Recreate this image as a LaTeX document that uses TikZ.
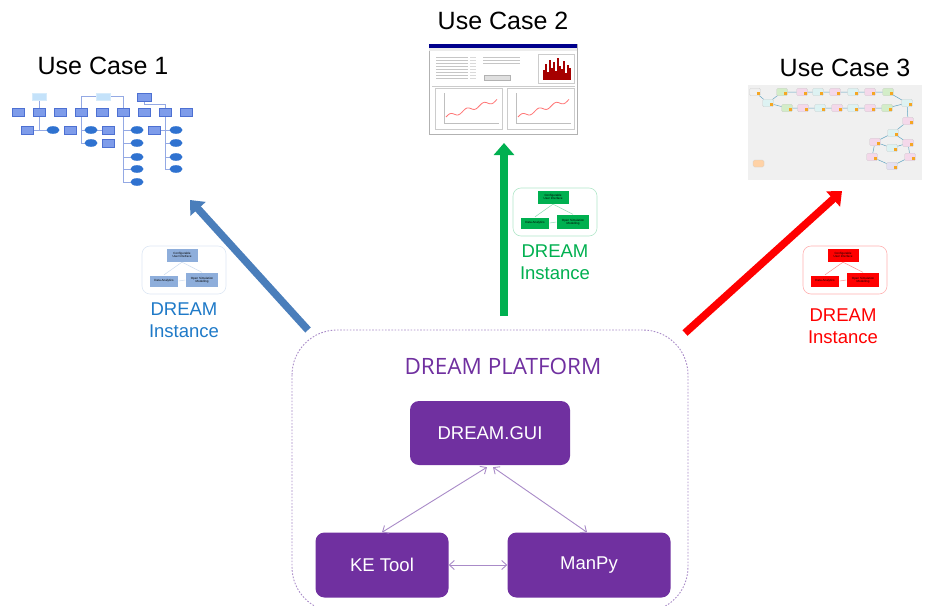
\documentclass[tikz,border=0pt]{standalone}
\usepackage{fontspec}
\setmainfont{Liberation Sans}
\newfontfamily\platfont{Open Sans}
\usetikzlibrary{arrows.meta,positioning}

\definecolor{dreampurple}{HTML}{7030A0}
\definecolor{platline}{HTML}{A98BC8}
\definecolor{arrowblue}{HTML}{4A7EBB}
\definecolor{textblue}{HTML}{1F7AC8}
\definecolor{dreamgreen}{HTML}{00B050}
\definecolor{dreamred}{HTML}{FF0000}
\definecolor{miniblue}{HTML}{8EAEDB}
\definecolor{ucbox}{HTML}{7E9CEA}
\definecolor{ucedge}{HTML}{4D70D2}
\definecolor{ucell}{HTML}{2F72D0}
\definecolor{uclabel}{HTML}{C4E2FA}
\definecolor{flgreen}{HTML}{D3EDC8}
\definecolor{flpink}{HTML}{F4D8EA}
\definecolor{flcyan}{HTML}{DDF2F2}
\definecolor{fllav}{HTML}{E3E0F2}
\definecolor{flgray}{HTML}{F0F0F0}
\definecolor{flmark}{HTML}{F5A623}

\tikzset{
  compbox/.style={fill=dreampurple, rounded corners=9pt, text=white, inner sep=0pt,
    font=\fontsize{18.5}{22}\selectfont, minimum width=160pt, minimum height=64pt},
  linkarrow/.style={platline, line width=0.9pt,
    {Straight Barb[length=5pt,width=9pt]}-{Straight Barb[length=5pt,width=9pt]}},
  bigarrow/.style={line width=7.5pt, -{Triangle[length=12pt,width=20pt]}},
  casetitle/.style={font=\fontsize{25}{29}\selectfont},
  insttext/.style={align=center, font=\fontsize{18.5}{22}\selectfont},
  minibox/.style={draw=white, line width=.3pt, inner sep=0.5pt, align=center,
    font=\fontsize{3}{3.4}\selectfont},
  flnode/.style={draw=gray!40, line width=.3pt, rounded corners=1.5pt},
}

% small DREAM instance sketch: name, x, y, colour
\newcommand{\miniinst}[4]{%
  \begin{scope}[shift={(#2,#3)}]
    \draw[#4!30, line width=0.6pt, rounded corners=8pt] (0,0) rectangle (84,48);
    \node[minibox, fill=#4, minimum width=32pt, minimum height=14pt] (#1top) at (40,9) {Configurable\\User Interface};
    \node[minibox, fill=#4, minimum width=29pt, minimum height=12pt] (#1left) at (22,35) {Data Analytics};
    \node[minibox, fill=#4, minimum width=33pt, minimum height=15pt] (#1right) at (60,34) {Open Simulation\\Modelling};
    \draw[#4!45, line width=.5pt] (#1top.south) -- (#1left.north);
    \draw[#4!45, line width=.5pt] (#1top.south) -- (#1right.north);
    \draw[#4!45, line width=.5pt] (#1left.east) -- (#1right.west);
  \end{scope}}

\begin{document}
\begin{tikzpicture}[x=1pt, y=-1pt]
  \useasboundingbox (0,0) rectangle (925,605);
  \fill[white] (0,0) rectangle (925,605);

  %%% titles
  \node[casetitle] (case1) at (103,66) {Use Case 1};
  \node[casetitle] (case2) at (503,21) {Use Case 2};
  \node[casetitle] (case3) at (845,68) {Use Case 3};

  %%% use case 1 : org chart
  \begin{scope}[ucedge!60, line width=.5pt]
    \draw (39,96) -- (39,130) -- (53,130);
    \draw (27,130) -- (39,130);
    \draw (103,96) -| (81,112);
    \draw (103,96) -| (123,112);
    \draw (144,96) -- (144,104) -| (165,112);
    \draw (81,112) -- (81,143) -- (91,143);
    \draw (81,130) -- (108,130);
    \draw (123,112) -- (123,182) -- (137,182);
    \foreach \y in {130,143,157,169} \draw (123,\y) -- (137,\y);
    \draw (165,112) -- (165,169);
    \foreach \y in {130,143,157,169} \draw (165,\y) -- (176,\y);
    \draw (154,130) -- (165,130);
  \end{scope}
  \foreach \x in {39,103}
    \draw[uclabel!70!white, fill=uclabel] (\x-7,93) rectangle (\x+7,100);
  \draw[ucedge, fill=ucbox] (137,93) rectangle (151,101);
  \foreach \x in {18,39,...,186}
    \draw[ucedge, fill=ucbox, line width=.4pt] (\x-6,108) rectangle (\x+6,116);
  \foreach \x/\y in {27/130,70/130,108/130,154/130,108/143}
    \draw[ucedge, fill=ucbox, line width=.4pt] (\x-6,\y-4) rectangle (\x+6,\y+4);
  \foreach \x/\y in {53/130,91/130,137/130,176/130,91/143,137/143,176/143,
                     137/157,176/157,137/169,176/169,137/182}
    \fill[ucell] (\x,\y) ellipse (6.5 and 3.8);

  %%% use case 2 : spreadsheet window
  \draw[fill=white, draw=gray!60, line width=.6pt] (429,44) rectangle (577,134);
  \fill[blue!55!black] (429,44) rectangle (577,48);
  \fill[gray!15] (429,48) rectangle (577,51);
  \foreach \y in {57,60,...,78} {
    \draw[gray!45, line width=.5pt] (436,\y) -- (468,\y);
    \draw[gray!30, line width=.5pt] (470,\y) -- (476,\y);
  }
  \foreach \y in {57,60,63}
    \draw[gray!45, line width=.5pt] (483,\y) -- (520,\y);
  \draw[gray!60, fill=gray!25] (484,75) rectangle (510,80);
  \draw[gray!40, line width=.4pt] (538,54) rectangle (574,83);
  \foreach \x/\h in {543/10,545/16,547/8,549/20,551/12,553/18,555/9,557/22,559/14,561/11,563/19,565/7,567/15,569/12}
    \fill[red!65!black] (\x,80) rectangle (\x+1.6,80-\h);
  \draw[gray!40, line width=.4pt] (432,86) -- (575,86);
  \foreach \xa in {435,507} {
    \draw[gray!40, line width=.4pt] (\xa,88) rectangle (\xa+67,129);
    \draw[gray!50, line width=.4pt] (\xa+9,93) -- (\xa+9,123) -- (\xa+64,123);
    \draw[red!55, line width=.8pt, smooth, domain=0:1, samples=30]
      plot ({\xa+11+51*\x},{117-17*\x-2*sin(1100*\x)});
  }

  %%% use case 3 : flow model
  \fill[gray!12] (748,85) rectangle (922,180);
  \foreach \n/\x/\y in {s/755/92, a/768/103,
      p1/782/92, p2/802/92, p3/818/92, p4/835/92, p5/853/92, p6/870/92, p7/888/92,
      q1/787/108, q2/803/108, q3/820/108, q4/837/108, q5/853/108, q6/870/108, q7/887/108,
      r1/907/103, r2/908/121, r3/893/133, r4/875/142, r5/892/148, r6/908/143,
      r7/872/157, r8/910/157, r9/892/166}
    \coordinate (fl\n) at (\x,\y);
  \draw[cyan!50!gray, line width=.5pt]
    (fls) -- (fla) -- (flp1) -- (flp2) -- (flp3) -- (flp4) -- (flp5) -- (flp6) -- (flp7) -- (flr1)
    (fla) -- (flq1) -- (flq2) -- (flq3) -- (flq4) -- (flq5) -- (flq6) -- (flq7) -- (flr1)
    -- (flr2) -- (flr3) -- (flr4) -- (flr7) -- (flr9) -- (flr8) -- (flr6) -- (flr3)
    (flr4) -- (flr5) -- (flr6);
  \foreach \n/\c in {s/flgray, a/flcyan, p1/flgreen, p2/flpink, p3/flcyan, p4/flpink,
      p5/flcyan, p6/flpink, p7/flgreen, q1/flgreen, q2/flpink, q3/flcyan, q4/flpink,
      q5/flcyan, q6/flpink, q7/flgreen, r1/flcyan, r2/flpink, r3/flcyan, r4/flpink,
      r5/flcyan, r6/flpink, r7/flpink, r8/flpink, r9/fllav} {
    \draw[flnode, fill=\c] ([shift={(-5.5,-3.8)}]fl\n) rectangle ([shift={(5.5,3.8)}]fl\n);
    \fill[flmark] ([shift={(2,0)}]fl\n) rectangle ([shift={(5,3)}]fl\n);
  }
  \draw[flnode, fill=orange!35] (753,160) rectangle (764,167);

  %%% big arrows to the use cases
  \coordinate (bluetail) at (308,330);
  \coordinate (bluetip) at (190,200);
  \coordinate (greentail) at (504,316);
  \coordinate (greentip) at (504,143);
  \coordinate (redtail) at (685,333);
  \coordinate (redtip) at (842,191);
  \draw[bigarrow, arrowblue] (bluetail) -- (bluetip);
  \draw[bigarrow, dreamgreen] (greentail) -- (greentip);
  \draw[bigarrow, dreamred] (redtail) -- (redtip);

  %%% DREAM instances
  \miniinst{bi}{142}{246}{miniblue}
  \miniinst{gi}{513}{188}{dreamgreen}
  \miniinst{ri}{803}{246}{dreamred}
  \node[insttext, text=textblue] (blueinst) at (184,320) {DREAM\\Instance};
  \node[insttext, text=dreamgreen] (greeninst) at (555,262) {DREAM\\Instance};
  \node[insttext, text=dreamred] (redinst) at (843,326) {DREAM\\Instance};

  %%% platform
  \draw[platline, line width=0.9pt, dash pattern=on 1.6pt off 1.6pt, rounded corners=45pt]
    (292,330) rectangle (688,612);
  \node[text=dreampurple, font=\platfont\fontsize{22.5}{26}\selectfont] (plattitle) at (503,366) {DREAM PLATFORM};

  \node[compbox] (gui) at (490,433) {DREAM.GUI};
  \node[compbox, minimum width=133pt, minimum height=65pt] (ketool) at (382,565) {KE Tool};
  \node[compbox, minimum width=163pt, minimum height=65pt] (manpy) at (589,565) {ManPy};

  \draw[linkarrow] ([shift={(-3pt,-2pt)}]gui.south) -- (ketool.north);
  \draw[linkarrow] ([shift={(3pt,-2pt)}]gui.south) -- ([xshift=-2pt]manpy.north);
  \draw[linkarrow] (ketool.east) -- (manpy.west);
\end{tikzpicture}
\end{document}
